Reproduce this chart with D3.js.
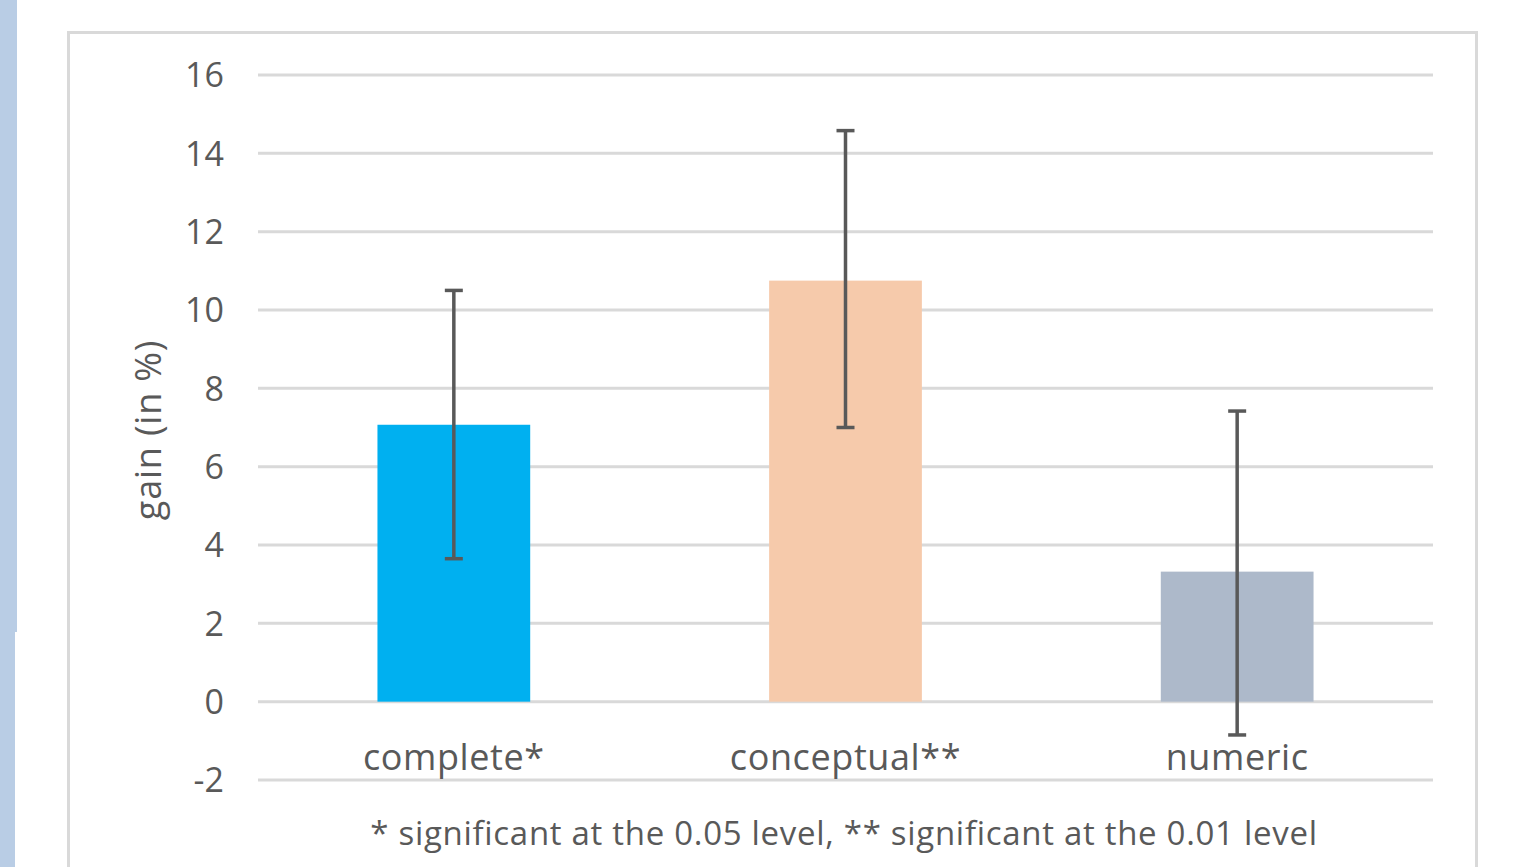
<!DOCTYPE html>
<meta charset="UTF-8">
<style>
    body { margin: 0; background: #fff; }
    svg { display: block; font-family: "Open Sans", Lato, sans-serif; }
    .grid line { stroke: #d9d9d9; stroke-width: 3; }
    .tick-label { fill: #595959; font-size: 34px; }
</style>
<body>
<script src="https://d3js.org/d3.v7.min.js"></script>
<script>

// data
var categories = ["complete*", "conceptual**", "numeric"];
var gains = [7.07, 10.75, 3.32];
var errLow = [3.65, 7.0, -0.85];
var errHigh = [10.5, 14.58, 7.42];
var colors = ["#00b0f0", "#f6caab", "#adb9ca"];
var yTicks = [-2, 0, 2, 4, 6, 8, 10, 12, 14, 16];
var footnote = "* significant at the 0.05 level, ** significant at the 0.01 level";
var yTitle = "gain (in %)";

var W = 1513, H = 867;
var plot = {left: 258, right: 1433, top: 75, bottom: 780};

var svg = d3.select("body").append("svg")
    .attr("width", W)
    .attr("height", H);

// slide decoration strip on the left
svg.append("rect").attr("x", 0).attr("y", 0).attr("width", 17).attr("height", 632).attr("fill", "#b9cde5");
svg.append("rect").attr("x", 0).attr("y", 632).attr("width", 15).attr("height", H - 632).attr("fill", "#b9cde5");

// chart frame
svg.append("rect")
    .attr("x", 68.5).attr("y", 32.5)
    .attr("width", 1408).attr("height", H)
    .attr("fill", "none")
    .attr("stroke", "#d9d9d9")
    .attr("stroke-width", 3);

var x = d3.scaleBand()
    .domain(categories)
    .range([plot.left, plot.right])
    .paddingInner(0.61)
    .paddingOuter(0.305);

var y = d3.scaleLinear()
    .domain([-2, 16])
    .range([plot.bottom, plot.top]);

// gridlines
svg.append("g")
    .attr("class", "grid")
    .selectAll("line")
    .data(yTicks)
    .enter().append("line")
    .attr("x1", plot.left)
    .attr("x2", plot.right)
    .attr("y1", function(d) { return y(d); })
    .attr("y2", function(d) { return y(d); });

// y tick labels
svg.append("g")
    .selectAll("text")
    .data(yTicks)
    .enter().append("text")
    .attr("class", "tick-label")
    .attr("x", 224)
    .attr("y", function(d) { return y(d); })
    .attr("dy", "0.36em")
    .attr("text-anchor", "end")
    .text(function(d) { return d; });

// bars
svg.append("g")
    .selectAll("rect")
    .data(categories)
    .enter().append("rect")
    .attr("x", function(d) { return x(d); })
    .attr("width", x.bandwidth())
    .attr("y", function(d, i) { return y(gains[i]); })
    .attr("height", function(d, i) { return y(0) - y(gains[i]); })
    .attr("fill", function(d, i) { return colors[i]; });

// error bars
var eb = svg.append("g")
    .attr("stroke", "#595959")
    .attr("stroke-width", 3.5);

categories.forEach(function(c, i) {
    var cx = x(c) + x.bandwidth() / 2;
    eb.append("line")
        .attr("x1", cx).attr("x2", cx)
        .attr("y1", y(errHigh[i])).attr("y2", y(errLow[i]));
    [errHigh[i], errLow[i]].forEach(function(v) {
        eb.append("line")
            .attr("x1", cx - 9).attr("x2", cx + 9)
            .attr("y1", y(v)).attr("y2", y(v));
    });
});

// category labels
svg.append("g")
    .selectAll("text")
    .data(categories)
    .enter().append("text")
    .attr("x", function(d) { return x(d) + x.bandwidth() / 2; })
    .attr("y", 770)
    .attr("text-anchor", "middle")
    .attr("fill", "#595959")
    .attr("font-size", "36px")
    .attr("letter-spacing", "0.6px")
    .text(function(d) { return d; });

// y axis title
svg.append("text")
    .attr("transform", "translate(161,430) rotate(-90)")
    .attr("text-anchor", "middle")
    .attr("fill", "#595959")
    .attr("font-size", "36px")
    .attr("letter-spacing", "0.8px")
    .text(yTitle);

// footnote
svg.append("text")
    .attr("x", 844)
    .attr("y", 845)
    .attr("text-anchor", "middle")
    .attr("fill", "#595959")
    .attr("font-size", "33px")
    .attr("letter-spacing", "0.7px")
    .text(footnote);

</script>
</body>
